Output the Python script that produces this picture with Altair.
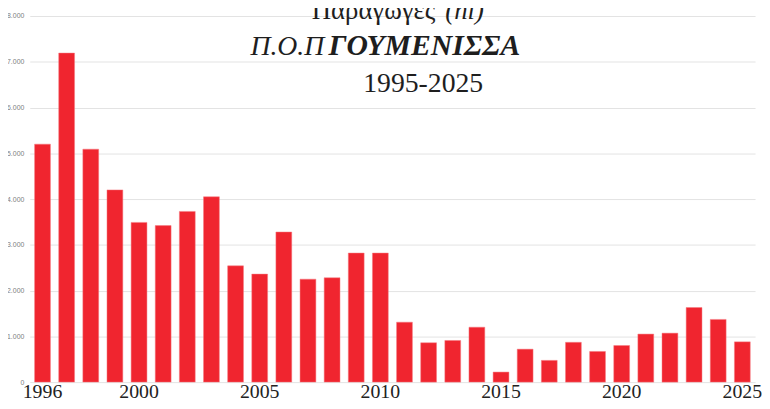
import altair as alt
import pandas as pd

years = list(range(1996, 2026))
production = [5200, 7190, 5090, 4200, 3490, 3420, 3730, 4050, 2540, 2360,
              3280, 2250, 2280, 2820, 2820, 1310, 860, 910, 1200, 220,
              720, 475, 870, 670, 800, 1050, 1070, 1630, 1370, 880]
x_label_years = [1996, 2000, 2005, 2010, 2015, 2020, 2025]
y_ticks = [0, 1000, 2000, 3000, 4000, 5000, 6000, 7000, 8000]

title1_regular = "Παραγωγές"
title1_italic = "(hl)"
title2_italic = "Π.Ο.Π"
title2_bold = "ΓΟΥΜΕΝΙΣΣΑ"
title3 = "1995-2025"

df = pd.DataFrame({"year": years, "value": production})

bars = alt.Chart(df).mark_bar(color="#F0252F", stroke="#F47A80", strokeWidth=0.5).encode(
    x=alt.X("year:O",
            scale=alt.Scale(paddingInner=0.344, paddingOuter=0.2),
            axis=alt.Axis(values=x_label_years, labelAngle=0, title=None,
                          ticks=False, domain=False, labelFont="Liberation Serif",
                          labelFontSize=20, labelColor="#222222", labelPadding=0)),
    y=alt.Y("value:Q",
            scale=alt.Scale(domain=[0, 8000], nice=False),
            axis=alt.Axis(values=y_ticks, title=None, ticks=False, domain=False,
                          labelFont="Liberation Sans", labelFontSize=7,
                          labelColor="#808080", labelPadding=6,
                          gridColor="#E3E3E3", gridWidth=1,
                          labelExpr="replace(format(datum.value, ','), ',', '.')")),
)


def txt(s, x, y, size, style="normal", weight="normal"):
    return alt.Chart(pd.DataFrame({"t": [s]})).mark_text(
        align="left", baseline="alphabetic", font="Liberation Serif",
        fontSize=size, fontStyle=style, fontWeight=weight, color="#1E1E1E"
    ).encode(text="t:N", x=alt.value(x), y=alt.value(y))


t1a = txt(title1_regular, 285, 3.5, 27)
t1b = txt(title1_italic, 420, 3.5, 27, style="italic")
t2a = txt(title2_italic, 223, 39, 28, style="italic")
t2b = txt(title2_bold, 302, 39, 30, style="italic", weight="bold")
t3 = txt(title3, 337, 77, 28)

chart = alt.layer(bars, t1a, t1b, t2a, t2b, t3).properties(
    width=733, height=370,
    autosize=alt.AutoSizeParams(type="none"),
    padding={"left": 22, "top": 6, "right": 7, "bottom": 17},
).configure_view(stroke=None)

chart.save("out.html", embed_options={"renderer": "svg", "actions": False})
